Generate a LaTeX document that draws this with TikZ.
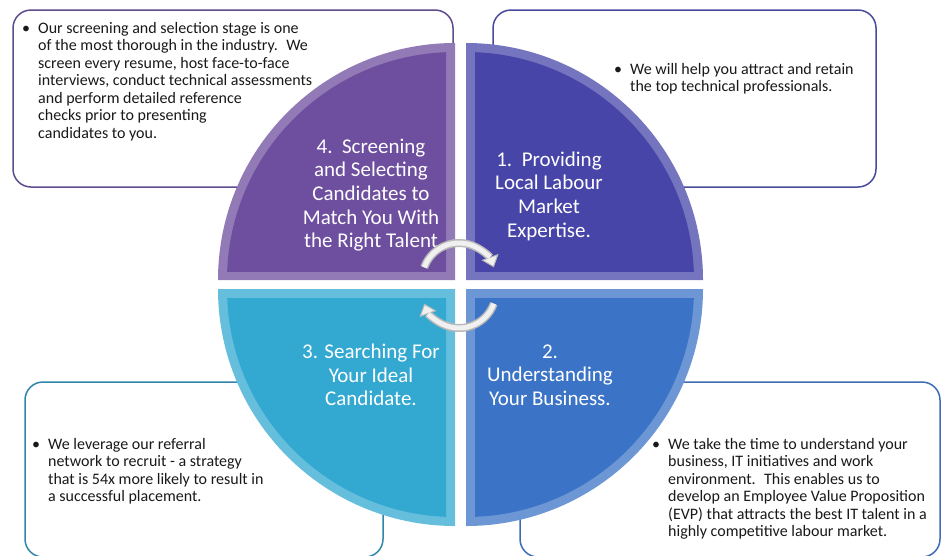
\documentclass[tikz,border=0pt]{standalone}
\usepackage{fontspec}
\setmainfont{Carlito}
\usetikzlibrary{arrows.meta}
\definecolor{quadpurple}{HTML}{6E4E9E}
\definecolor{quadindigo}{HTML}{4745A8}
\definecolor{quadroyal}{HTML}{3B74C6}
\definecolor{quadcyan}{HTML}{33A9D1}
\definecolor{edgepurple}{HTML}{5E4C8E}
\definecolor{edgeindigo}{HTML}{4A4A9C}
\definecolor{edgeroyal}{HTML}{3D6DB5}
\definecolor{edgecyan}{HTML}{2F86A8}
\tikzset{
  infobox/.style={rounded corners=18pt,line width=1.5pt,fill=white},
  infotext/.style={anchor=north west,inner sep=0pt,align=left,text=black!90,font=\fontsize{16}{17.5}\selectfont},
  quadtext/.style={inner sep=0pt,align=center,text=white,font=\fontsize{21}{23.7}\selectfont},
  turnarrow/.style={line width=8pt,draw=gray!55,-{Triangle[width=18pt,length=11pt,line width=1pt,fill=gray!12]}},
  turninner/.style={line width=5pt,draw=gray!12,shorten >=11pt}
}
\begin{document}
\begin{tikzpicture}[x=1pt,y=1pt]
\def\radQ{237}
\def\bevQ{9}
    \useasboundingbox (0,0) rectangle (942,-555);

    %Cajas de texto
    \draw[infobox,draw=edgepurple] (13,-10) rectangle (453,-187);
    \draw[infobox,draw=edgeindigo] (493,-10) rectangle (876,-187);
    \draw[infobox,draw=edgecyan] (25,-382) rectangle (383,-557);
    \draw[infobox,draw=edgeroyal] (520,-382) rectangle (940,-557);

    %Cuadrantes
    \foreach \cx/\cy/\a/\c in {455/-280/90/quadpurple,466/-280/0/quadindigo,466/-289/270/quadroyal,455/-289/180/quadcyan}{
        \fill[\c!75!white] (\cx,\cy) -- ++(\a:\radQ) arc[start angle=\a,end angle=\a+90,radius=\radQ] -- cycle;
        \begin{scope}
            \clip ([shift={(\a+45:\bevQ*1.4142)}]\cx,\cy) rectangle ++(\a+45:400);
            \fill[\c] (\cx,\cy) circle[radius=\radQ-\bevQ];
        \end{scope}
    }

    \node[quadtext] (q4) at (371,-195) {4.~~Screening\\and Selecting\\Candidates to\\Match You With\\the Right Talent};
    \node[quadtext] (q1) at (549,-196) {1.~~Providing\\Local Labour\\Market\\Expertise.};
    \node[quadtext] (q3) at (371,-375) {3. Searching For\\Your Ideal\\Candidate.};
    \node[quadtext] (q2) at (550,-375) {2.\\Understanding\\Your Business.};

    %Textos
    \node[infotext] (t4) at (38,-22) {\llap{\textbullet\hspace{8pt}}Our screening and selection stage is one\\of the most thorough in the industry.~ We\\screen every resume, host face-to-face\\interviews, conduct technical assessments\\and perform detailed reference\\checks prior to presenting\\candidates to you.};
    \node[infotext] (t1) at (630,-63) {\llap{\textbullet\hspace{8pt}}We will help you attract and retain\\the top technical professionals.};
    \node[infotext] (t3) at (48,-438) {\llap{\textbullet\hspace{8pt}}We leverage our referral\\network to recruit - a strategy\\that is 54x more likely to result in\\a successful placement.};
    \node[infotext] (t2) at (668,-438) {\llap{\textbullet\hspace{8pt}}We take the time to understand your\\business, IT initiatives and work\\environment.~ This enables us to\\develop an Employee Value Proposition\\(EVP) that attracts the best IT talent in a\\highly competitive labour market.};

    %Flechas
    \draw[turnarrow] (459,-280) ++(160:37) arc[start angle=160,end angle=20,radius=37];
    \draw[turninner] (459,-280) ++(160:37) arc[start angle=160,end angle=20,radius=37];
    \draw[turnarrow] (459,-291) ++(-20:37) arc[start angle=-20,end angle=-160,radius=37];
    \draw[turninner] (459,-291) ++(-20:37) arc[start angle=-20,end angle=-160,radius=37];
\end{tikzpicture}
\end{document}
